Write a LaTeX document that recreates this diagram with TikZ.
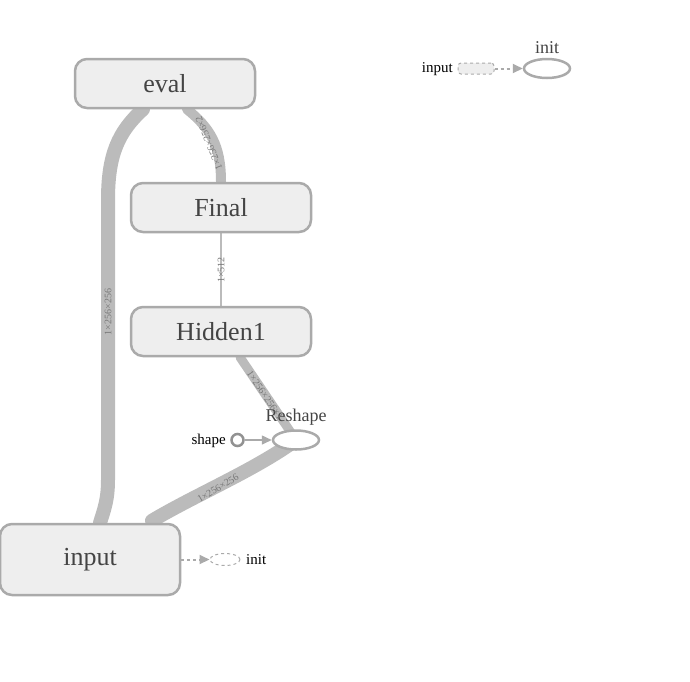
\documentclass[tikz,border=0pt]{standalone}
\usepackage{fontspec}
\setmainfont{Liberation Serif}
\usetikzlibrary{arrows.meta,shapes.geometric,calc,backgrounds}
\definecolor{edgegray}{HTML}{BBBBBB}
\definecolor{boxgray}{HTML}{AAAAAA}
\definecolor{boxfill}{HTML}{EEEEEE}
\definecolor{txtgray}{HTML}{444444}
\definecolor{lblgray}{HTML}{777777}
\tikzset{
  opbox/.style={draw=boxgray, fill=boxfill, line width=2.5pt, rounded corners=12pt,
    minimum width=180pt, minimum height=49pt, inner sep=0pt,
    font=\fontsize{26}{30}\selectfont, text=txtgray},
  opell/.style={ellipse, draw=boxgray, fill=white, line width=2.5pt,
    minimum width=46pt, minimum height=19pt, inner sep=0pt},
  dashell/.style={ellipse, draw=boxgray, dashed, fill=white, line width=1pt,
    minimum width=30pt, minimum height=12pt, inner sep=0pt},
  flow/.style={draw=edgegray, line cap=round},
  elabel/.style={font=\fontsize{10}{11}\selectfont, text=lblgray, inner sep=1pt},
  smalltxt/.style={font=\fontsize{15}{17}\selectfont, text=black, inner sep=0pt},
  titletxt/.style={font=\fontsize{18}{20}\selectfont, text=txtgray, inner sep=0pt},
  tip/.style={-{Triangle[length=10pt,width=9pt]}},
  dasharrow/.style={draw=boxgray, line width=2pt, dash pattern=on 3pt off 3pt, tip}
}
\begin{document}
\begin{tikzpicture}[x=1pt,y=-1pt]
\useasboundingbox (0,0) rectangle (690,681);

% nodes
\node[opbox] (eval) at (165,83.5) {eval};
\node[opbox] (final) at (221,207.5) {Final};
\node[opbox] (hidden) at (221,331.5) {Hidden1};
\node[opbox, minimum height=71pt] (input) at (90,559.5) {input};
\node[opell] (reshape) at (296,440) {};
\node[titletxt, anchor=south] (reshapelbl) at (296,426) {Reshape};
\node[circle, draw=lblgray!80!white, fill=white, line width=2.5pt, minimum size=12pt, inner sep=0pt] (shape) at (237.5,440) {};
\node[smalltxt, anchor=east] (shapelbl) at (226,441) {shape};
\node[dashell] (init1) at (225,559.5) {};
\node[smalltxt, anchor=west] (init1lbl) at (246,560) {init};

\node[draw=boxgray, dashed, fill=boxfill, line width=1pt, rounded corners=3pt,
  minimum width=36pt, minimum height=11pt, inner sep=0pt] (inputsm) at (476,68.5) {};
\node[smalltxt, anchor=east] (inputsmlbl) at (453,69) {input};
\node[opell] (init2) at (547,68.5) {};
\node[titletxt, anchor=south] (init2lbl) at (547,54) {init};

% edges
\begin{pgfonlayer}{background}
\draw[flow, line width=14pt] ($(eval.south)+(-22,0)$) .. controls (118,132) and (108,155) .. (108,200)
   -- (108,480) .. controls (108,500) and (104,510) .. ($(input.north)+(10,0)$);
\draw[flow, line width=10pt] ($(eval.south)+(22,0)$) .. controls (210,128) and (221,145) .. (final.north);
\draw[flow, line width=2.5pt, line cap=butt] (final.south) -- (hidden.north);
\draw[flow, line width=9pt] ($(hidden.south)+(19,0)$) -- (reshape.center);
\draw[flow, line width=14pt] (reshape.center) .. controls (255,470) and (195,495) .. ($(input.north)+(62,-2)$);
\end{pgfonlayer}

\draw[draw=boxgray, line width=1.5pt, tip] (shape.east) -- (reshape.west);
\draw[dasharrow] (input.east) -- (init1.west);
\draw[dasharrow] (inputsm.east) -- (init2.west);

% edge labels
\node[elabel, rotate=90] (l1) at (108,312) {1×256×256};
\node[elabel, rotate=112] (l2) at (209,143) {1×256×256×2};
\node[elabel, rotate=90] (l3) at (221,270) {1×512};
\node[elabel, rotate=-56] (l4) at (265,395) {1×256×256×1};
\node[elabel, rotate=31] (l5) at (218,488) {1×256×256};
\end{tikzpicture}
\end{document}
